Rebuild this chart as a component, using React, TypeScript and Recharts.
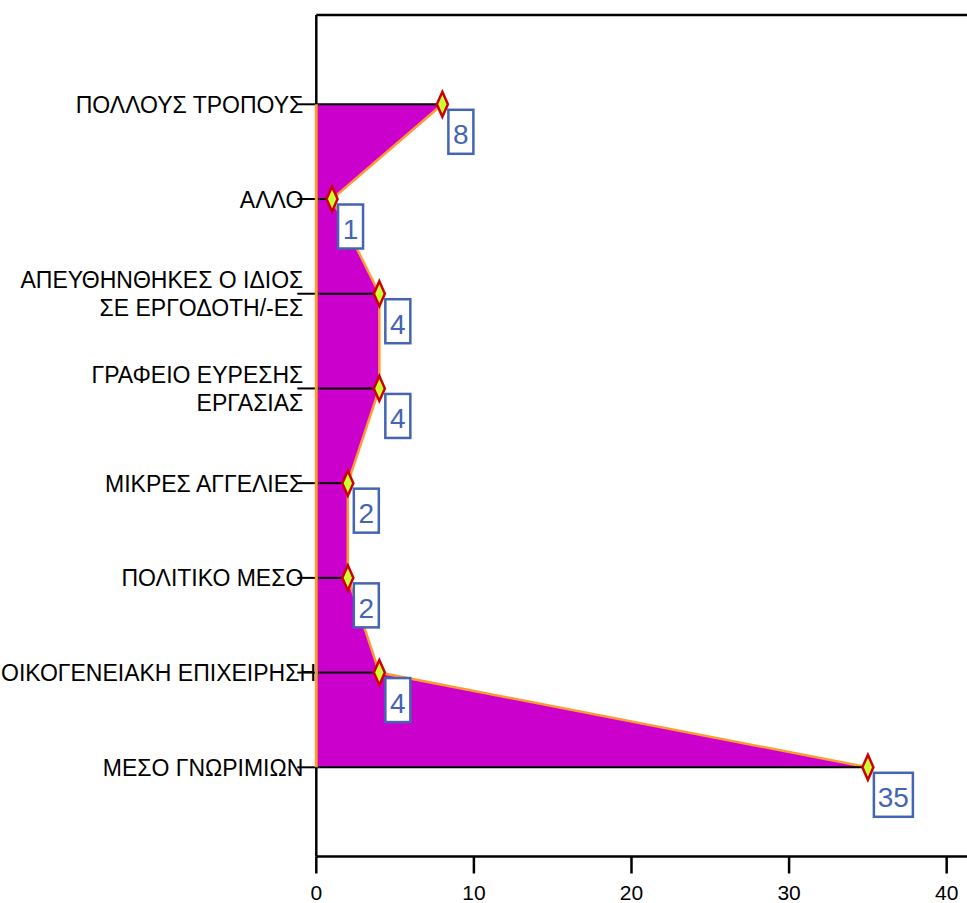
import React from 'react';
import { ComposedChart, Area, XAxis, YAxis, ReferenceLine, LabelList } from 'recharts';

const categories = [
  'ΠΟΛΛΟΥΣ ΤΡΟΠΟΥΣ',
  'ΑΛΛΟ',
  'ΑΠΕΥΘΗΝΘΗΚΕΣ Ο ΙΔΙΟΣ\nΣΕ ΕΡΓΟΔΟΤΗ/-ΕΣ',
  'ΓΡΑΦΕΙΟ ΕΥΡΕΣΗΣ\nΕΡΓΑΣΙΑΣ',
  'ΜΙΚΡΕΣ ΑΓΓΕΛΙΕΣ',
  'ΠΟΛΙΤΙΚΟ ΜΕΣΟ',
  'ΟΙΚΟΓΕΝΕΙΑΚΗ ΕΠΙΧΕΙΡΗΣΗ',
  'ΜΕΣΟ ΓΝΩΡΙΜΙΩΝ',
];
const counts = [8, 1, 4, 4, 2, 2, 4, 35];
const xTicks = [0, 10, 20, 30, 40];

const rows = categories.map((name, i) => ({ name, value: counts[i] }));

const FONT = '"Liberation Sans", Arial, sans-serif';
const BLUE = '#4464B4';

// Long labels don't fit in the axis width: start them at the left edge instead
const CategoryTick = (props: any) => {
  const { x, y, payload } = props;
  const lines = String(payload.value).split('\n');
  const lh = 28;
  const start = -((lines.length - 1) * lh) / 2;
  return (
    <g>
      {lines.map((l, i) => {
        const long = l.length > 22;
        return (
          <text
            key={i}
            x={long ? 1 : x + 6}
            y={y + start + i * lh + 8.5}
            textAnchor={long ? 'start' : 'end'}
            fontSize={23}
            fill="#000"
            fontFamily={FONT}
          >
            {l}
          </text>
        );
      })}
    </g>
  );
};

const Diamond = (props: any) => {
  const { cx, cy, index } = props;
  if (cx == null || cy == null) return <g key={index} />;
  return (
    <path
      key={index}
      d={`M${cx},${cy - 12.5} L${cx + 5.5},${cy} L${cx},${cy + 12.5} L${cx - 5.5},${cy} Z`}
      fill="#CCFF33"
      stroke="#CC0000"
      strokeWidth={2.5}
    />
  );
};

const ValueBox = (props: any) => {
  const { x, y, value } = props;
  const txt = String(value);
  const w = 11 + 14 * txt.length;
  return (
    <g>
      <rect x={x + 6} y={y + 5.5} width={w} height={44} fill="#fff" stroke={BLUE} strokeWidth={2.5} />
      <text x={x + 6 + w / 2} y={y + 40} textAnchor="middle" fontSize={28} fill={BLUE} fontFamily={FONT}>
        {txt}
      </text>
    </g>
  );
};

export default function App() {
  return (
    <div
      style={{
        position: 'fixed',
        left: 0,
        top: 0,
        width: 967,
        height: 903,
        overflow: 'hidden',
        background: '#fff',
        fontFamily: FONT,
      }}
    >
      <ComposedChart
        width={988}
        height={903}
        layout="vertical"
        data={rows}
        margin={{ top: 14, right: 9.8, bottom: 0, left: 8.3 }}
      >
        <XAxis
          type="number"
          domain={[0, 42]}
          ticks={xTicks}
          allowDataOverflow
          height={46.5}
          tickSize={17}
          tickMargin={12}
          axisLine={{ stroke: '#000', strokeWidth: 2.5 }}
          tickLine={{ stroke: '#000', strokeWidth: 2.5 }}
          tick={{ fontSize: 21, fill: '#000', fontFamily: FONT }}
        />
        <XAxis
          xAxisId="top"
          orientation="top"
          type="number"
          domain={[0, 42]}
          height={1}
          hide={false}
          tick={false}
          tickLine={false}
          axisLine={{ stroke: '#000', strokeWidth: 2.5 }}
        />
        <YAxis
          type="category"
          dataKey="name"
          scale="point"
          padding={{ top: 89.3, bottom: 89.2 }}
          width={308}
          tickSize={19}
          tickMargin={0}
          interval={0}
          axisLine={{ stroke: '#000', strokeWidth: 2.5 }}
          tickLine={{ stroke: '#000', strokeWidth: 2 }}
          tick={<CategoryTick />}
        />
        <Area
          type="linear"
          dataKey="value"
          stroke="#FF9933"
          strokeWidth={2.5}
          fill="#CC00CC"
          fillOpacity={1}
          dot={Diamond}
          activeDot={false}
          isAnimationActive={false}
        >
          <LabelList dataKey="value" content={ValueBox} />
        </Area>
        <ReferenceLine
          segment={[
            { x: 0, y: categories[0] },
            { x: 0, y: categories[categories.length - 1] },
          ]}
          stroke="#FF9933"
          strokeWidth={3}
          zIndex={600}
        />
        {rows.map((r) => (
          <ReferenceLine
            key={r.name}
            segment={[
              { x: 0, y: r.name },
              { x: r.value, y: r.name },
            ]}
            stroke="#000"
            strokeWidth={2}
          />
        ))}
      </ComposedChart>
    </div>
  );
}
